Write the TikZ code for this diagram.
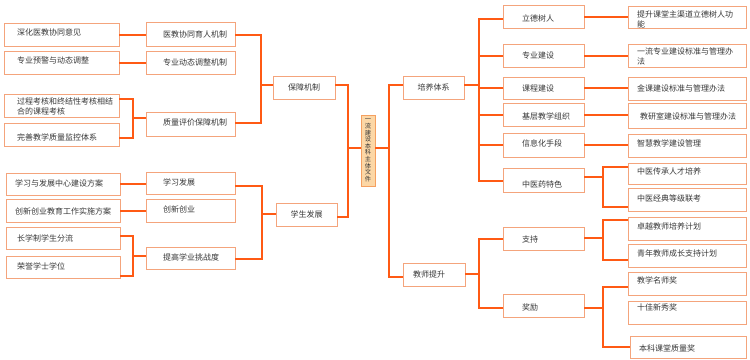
\documentclass[tikz,border=0pt]{standalone}
\usepackage{fontspec}
\newfontfamily\cjk{Noto Sans CJK SC}
\definecolor{lineC}{HTML}{FF5A14}
\definecolor{boxC}{HTML}{F4A47C}
\definecolor{txtC}{HTML}{383838}
\definecolor{cfill}{HTML}{FCD7A6}
\definecolor{cborder}{HTML}{F5A060}
\newcommand\bx[5]{\node[box, minimum width={#3-#1}, minimum height={#4-#2}] (#5) at ({(#1+#3)/2},{(#2+#4)/2}) {};}
\newcommand\tx[4]{\node[txt] (#1) at (#2,#3) {#4};}
\begin{document}
\begin{tikzpicture}[x=1pt,y=-1pt,
  box/.style={draw=boxC, line width=1pt, fill=white, inner sep=0pt, outer sep=0pt},
  txt/.style={font=\cjk\fontsize{8}{10}\selectfont, text=txtC, inner sep=0pt, align=left, anchor=west},
  txtc/.style={font=\cjk\fontsize{8}{10}\selectfont, text=txtC, inner sep=0pt},
  conn/.style={draw=lineC, line width=2pt}]
\useasboundingbox (0,0) rectangle (750,359);
% ---- left outer boxes
\bx{4}{23}{119}{46}{l1}   \tx{l1t}{17}{32}{深化医教协同意见}
\bx{4}{51}{119}{74}{l2}   \tx{l2t}{17}{60}{专业预警与动态调整}
\bx{4}{94}{119}{117}{l3}  \tx{l3t}{17}{106}{过程考核和终结性考核相结\\合的课程考核}
\bx{4}{123}{119}{146}{l4} \tx{l4t}{17}{137}{完善教学质量监控体系}
\bx{6}{173}{120}{195}{l5} \tx{l5t}{15}{183}{学习与发展中心建设方案}
\bx{6}{199}{120}{222}{l6} \tx{l6t}{15}{211}{创新创业教育工作实施方案}
\bx{6}{227}{120}{249}{l7} \tx{l7t}{17}{238}{长学制学生分流}
\bx{6}{256}{120}{278}{l8} \tx{l8t}{17}{266}{荣誉学士学位}
% ---- left middle boxes
\bx{146}{22}{235}{46}{m1}   \tx{m1t}{163}{34}{医教协同育人机制}
\bx{146}{51}{235}{74}{m2}   \tx{m2t}{163}{62}{专业动态调整机制}
\bx{146}{112}{235}{136}{m3} \tx{m3t}{163}{122}{质量评价保障机制}
\bx{146}{172}{235}{194}{m4} \tx{m4t}{163}{182}{学习发展}
\bx{146}{199}{235}{222}{m5} \tx{m5t}{163}{209}{创新创业}
\bx{146}{247}{235}{269}{m6} \tx{m6t}{163}{257}{提高学业挑战度}
% ---- inner boxes
\bx{273}{76}{335}{99}{b1}   \node[txtc] (b1t) at (b1) {保障机制};
\bx{276}{203}{337}{226}{b2} \node[txtc] (b2t) at (b2) {学生发展};
\bx{403}{76}{464}{99}{r1}   \node[txtc] (r1t) at (r1) {培养体系};
\bx{403}{263}{465}{286}{r2} \node[txtc] (r2t) at ([xshift=-5pt]r2.center) {教师提升};
% ---- centre
\node[draw=cborder, fill=cfill, line width=1pt, inner sep=0pt, outer sep=0pt,
      minimum width=14, minimum height=71] (c) at (368,150.5) {};
\node[font=\cjk\fontsize{6.3}{6.6}\selectfont, text=txtC, align=center, inner sep=0pt] (ct) at (c)
  {一\\流\\建\\设\\本\\科\\主\\体\\文\\件};
% ---- right middle boxes
\bx{503}{5}{584}{28}{s1}    \tx{s1t}{522}{18}{立德树人}
\bx{503}{44}{584}{67}{s2}   \tx{s2t}{522}{55}{专业建设}
\bx{503}{77}{584}{99}{s3}   \tx{s3t}{522}{88}{课程建设}
\bx{503}{103}{584}{126}{s4} \tx{s4t}{522}{116}{基层教学组织}
\bx{503}{133}{584}{157}{s5} \tx{s5t}{522}{143}{信息化手段}
\bx{503}{168}{584}{192}{s6} \tx{s6t}{522}{184}{中医药特色}
\bx{503}{227}{584}{250}{s7} \tx{s7t}{522}{239}{支持}
\bx{503}{294}{584}{317}{s8} \tx{s8t}{522}{307}{奖励}
% ---- right outer boxes
\bx{628}{6}{746}{28}{t1}     \tx{t1t}{637}{19}{提升课堂主渠道立德树人功\\能}
\bx{628}{44}{746}{67}{t2}    \tx{t2t}{637}{56.5}{一流专业建设标准与管理办\\法}
\bx{628}{77}{746}{100}{t3}   \tx{t3t}{637}{88}{金课建设标准与管理办法}
\bx{628}{103}{746}{128}{t4}  \tx{t4t}{640}{116}{教研室建设标准与管理办法}
\bx{628}{134}{746}{157}{t5}  \tx{t5t}{637}{143}{智慧教学建设管理}
\bx{628}{163}{746}{184}{t6}  \tx{t6t}{637}{171}{中医传承人才培养}
\bx{628}{188}{746}{211}{t7}  \tx{t7t}{637}{198}{中医经典等级联考}
\bx{628}{217}{746}{240}{t8}  \tx{t8t}{637}{226}{卓越教师培养计划}
\bx{628}{244}{746}{267}{t9}  \tx{t9t}{637}{253}{青年教师成长支持计划}
\bx{628}{272}{746}{295}{t10} \tx{t10t}{637}{280}{教学名师奖}
\bx{628}{301}{746}{324}{t11} \tx{t11t}{637}{307}{十佳新秀奖}
\bx{630}{336}{746}{358}{t12} \tx{t12t}{639}{348}{本科课堂质量奖}
% ---- connectors, left side
\draw[conn] (l1.east) -- (m1.west|-l1.east);
\draw[conn] (l2.east) -- (m2.west|-l2.east);
\coordinate (ja1) at (133,99); \coordinate (ja2) at (133,138); \coordinate (ja3) at (133,118);
\draw[conn] (l3.east|-ja1) -- (ja1) -- (ja2) -- (l4.east|-ja2);
\draw[conn] (ja3) -- (m3.west|-ja3);
\draw[conn] (l5.east) -- (m4.west|-l5.east);
\draw[conn] (l6.east) -- (m5.west|-l6.east);
\coordinate (jb1) at (133,236); \coordinate (jb2) at (133,276); \coordinate (jb3) at (133,256);
\draw[conn] (l7.east|-jb1) -- (jb1) -- (jb2) -- (l8.east|-jb2);
\draw[conn] (jb3) -- (m6.west|-jb3);
\coordinate (jc1) at (261,35); \coordinate (jc2) at (261,123); \coordinate (jc3) at (261,85);
\draw[conn] (m1.east|-jc1) -- (jc1) -- (jc2) -- (m3.east|-jc2);
\draw[conn] (jc3) -- (b1.west|-jc3);
\coordinate (jd1) at (262,186); \coordinate (jd2) at (262,259); \coordinate (jd3) at (262,214);
\draw[conn] (m4.east|-jd1) -- (jd1) -- (jd2) -- (m6.east|-jd2);
\draw[conn] (jd3) -- (b2.west|-jd3);
\coordinate (je1) at (348,85); \coordinate (je2) at (348,217); \coordinate (je3) at (348,148);
\draw[conn] (b1.east|-je1) -- (je1) -- (je2) -- (b2.east|-je2);
\draw[conn] (je3) -- (c.west|-je3);
% ---- connectors, right side
\coordinate (jf1) at (389,85); \coordinate (jf2) at (389,277); \coordinate (jf3) at (389,148);
\draw[conn] (r1.west|-jf1) -- (jf1) -- (jf2) -- (r2.west|-jf2);
\draw[conn] (jf3) -- (c.east|-jf3);
\coordinate (jg0) at (479,85); \coordinate (jg1) at (479,19); \coordinate (jg6) at (479,181);
\draw[conn] (s1.west|-jg1) -- (jg1) -- (jg6) -- (s6.west|-jg6);
\draw[conn] (r1.east|-jg0) -- (jg0);
\draw[conn] (s2.west) -- (jg1|-s2.west);
\draw[conn] (s3.west) -- (jg1|-s3.west);
\draw[conn] (s4.west) -- (jg1|-s4.west);
\draw[conn] (s5.west) -- (jg1|-s5.west);
\coordinate (jh0) at (479,274); \coordinate (jh1) at (479,239); \coordinate (jh2) at (479,308);
\draw[conn] (s7.west|-jh1) -- (jh1) -- (jh2) -- (s8.west|-jh2);
\draw[conn] (r2.east|-jh0) -- (jh0);
\draw[conn] (s1.east) -- (t1.west|-s1.east);
\draw[conn] (s2.east) -- (t2.west|-s2.east);
\draw[conn] (s3.east) -- (t3.west|-s3.east);
\draw[conn] (s4.east) -- (t4.west|-s4.east);
\draw[conn] (s5.east) -- (t5.west|-s5.east);
\coordinate (ji0) at (603,177); \coordinate (ji1) at (603,167); \coordinate (ji2) at (603,207);
\draw[conn] (t6.west|-ji1) -- (ji1) -- (ji2) -- (t7.west|-ji2);
\draw[conn] (s6.east|-ji0) -- (ji0);
\coordinate (jk0) at (603,238); \coordinate (jk1) at (603,220); \coordinate (jk2) at (603,260);
\draw[conn] (t8.west|-jk1) -- (jk1) -- (jk2) -- (t9.west|-jk2);
\draw[conn] (s7.east|-jk0) -- (jk0);
\coordinate (jl0) at (603,308); \coordinate (jl1) at (603,287); \coordinate (jl2) at (603,347);
\draw[conn] (t10.west|-jl1) -- (jl1) -- (jl2) -- (t12.west|-jl2);
\draw[conn] (s8.east|-jl0) -- (jl0);
\end{tikzpicture}
\end{document}
